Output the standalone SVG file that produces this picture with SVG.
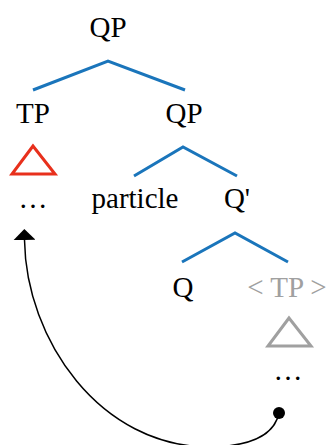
<svg xmlns="http://www.w3.org/2000/svg" width="332" height="445" viewBox="0 0 332 445">
<style>
text{font-size:29px;fill:#000;text-anchor:middle}
.br{stroke:#1a75bb;stroke-width:3;fill:none}
.gr{fill:#a0a0a0}
</style>
<defs>
<marker id="ah" markerWidth="11" markerHeight="22" refX="0" refY="11" orient="auto" markerUnits="userSpaceOnUse" viewBox="0 0 11 22">
<path d="M11,11 L0,0 L0,22 Z" fill="#000"/>
</marker>
</defs>
<g font-family="'Liberation Serif', 'Times New Roman', serif">
<g id="n-qp-root"><text x="108" y="37">QP</text></g>
<g id="n-tp"><text x="33" y="123">TP</text><polygon points="33,146 12,174 55,174" fill="none" stroke="#e8301c" stroke-width="3"/><text x="33" y="208">…</text></g>
<g id="n-qp2"><text x="184" y="123">QP</text></g>
<g id="n-particle"><text x="135" y="208">particle</text></g>
<g id="n-qbar"><text x="237" y="208">Q'</text></g>
<g id="n-q"><text x="183" y="297">Q</text></g>
<g id="n-tp-copy"><text x="287" y="297" class="gr">&lt; TP &gt;</text><polygon points="289,318 268,346 311,346" fill="none" stroke="#a0a0a0" stroke-width="3"/><text x="288" y="380">…</text></g>
</g>
<g id="connectors">
<polyline class="br" points="33,90 108,61 185,90"/>
<polyline class="br" points="134,176 183,147 237,176"/>
<polyline class="br" points="182,262 235,233 288,262"/>
<path d="M279,413 Q272,446 210,447 C100,447 26,340 24.5,240" fill="none" stroke="#000" stroke-width="1.5" marker-end="url(#ah)"/>
<circle cx="279" cy="413" r="6" fill="#000"/>
</g>
</svg>
